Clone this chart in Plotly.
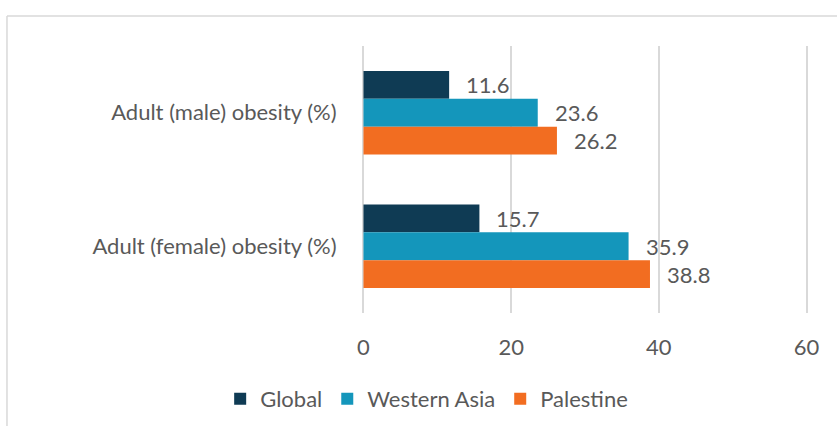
import plotly.graph_objects as go

categories = ["Adult (male) obesity (%)", "Adult (female) obesity (%)"]
global_vals = [11.6, 15.7]
western_asia_vals = [23.6, 35.9]
palestine_vals = [26.2, 38.8]
series_names = ["Global", "Western Asia", "Palestine"]
x_ticks = [0, 20, 40, 60]

colors = ["#0f3b54", "#1496bb", "#f26d21"]
font_family = "Lato, 'Open Sans', sans-serif"
text_color = "#595959"
fs = 22

fig = go.Figure()
all_vals = [global_vals, western_asia_vals, palestine_vals]
for name, vals, col in zip(series_names, all_vals, colors):
    fig.add_trace(go.Bar(
        y=categories, x=vals, name=name, orientation="h",
        marker=dict(color=col, line=dict(width=0)),
        hoverinfo="x+name",
    ))

# value labels via annotations in data coordinates
for i, vals in enumerate(all_vals):
    for j, v in enumerate(vals):
        fig.add_annotation(
            x=v, y=categories[j], text=f"{v:.1f}", showarrow=False,
            xanchor="left", xshift=15, yshift=(i - 1) * -28,
            font=dict(family=font_family, size=fs, color=text_color),
        )

fig.update_layout(
    width=837, height=426,
    margin=dict(l=361.5, r=28.5, t=46, b=113, autoexpand=False),
    paper_bgcolor="white", plot_bgcolor="white",
    barmode="group", bargap=0.375, bargroupgap=0,
    font=dict(family=font_family, size=fs, color=text_color),
    showlegend=True,
    legend=dict(orientation="h", x=0.145, xanchor="center", y=-0.322, yanchor="middle",
                font=dict(family=font_family, size=fs, color=text_color),
                itemwidth=30, traceorder="normal", tracegroupgap=0),
    xaxis=dict(range=[-0.2, 60.2], tickvals=x_ticks, showgrid=True, gridcolor="#d9d9d9", gridwidth=1.5,
               zeroline=False, showline=False, ticks="outside", ticklen=15,
               tickcolor="rgba(0,0,0,0)", fixedrange=True),
    yaxis=dict(autorange="reversed", showgrid=False, zeroline=False, showline=False,
               ticks="outside", ticklen=20, tickcolor="rgba(0,0,0,0)"),
    shapes=[
        dict(type="line", xref="paper", yref="paper", x0=-0.796, x1=-0.796, y0=1.1124, y1=-0.5,
             line=dict(color="#d9d9d9", width=1.5)),
        dict(type="line", xref="paper", yref="paper", x0=-0.796, x1=1.2, y0=1.1124, y1=1.1124,
             line=dict(color="#d9d9d9", width=1.5)),
    ],
)

fig.write_html("out.html")
